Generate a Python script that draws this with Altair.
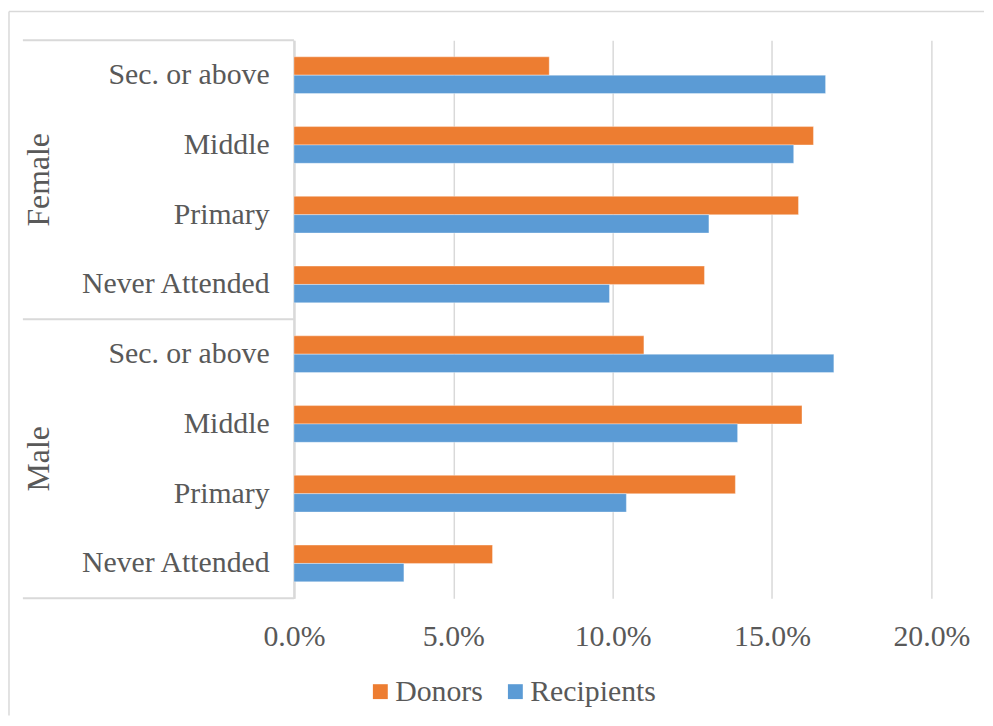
import altair as alt
import pandas as pd

genders = ["Female", "Male"]
levels = ["Sec. or above", "Middle", "Primary", "Never Attended"]
series = ["Donors", "Recipients"]
# values per gender in order of levels (fractions)
donors = {
    "Female": [0.0801, 0.1630, 0.1583, 0.1288],
    "Male": [0.1098, 0.1594, 0.1385, 0.0623],
}
recipients = {
    "Female": [0.1668, 0.1568, 0.1302, 0.0990],
    "Male": [0.1694, 0.1392, 0.1043, 0.0345],
}
x_ticks = [0.0, 0.05, 0.10, 0.15, 0.20]
colors = ["#ED7D31", "#5B9BD5"]

keys = [f"{g}|{l}" for g in genders for l in levels]

rows = []
for g in genders:
    for i, l in enumerate(levels):
        rows.append({"key": f"{g}|{l}", "series": "Donors", "value": donors[g][i]})
        rows.append({"key": f"{g}|{l}", "series": "Recipients", "value": recipients[g][i]})
df = pd.DataFrame(rows)

TXT = "#595959"
GRID = "#D9D9D9"
FONT = "Liberation Serif"
FS = 30

yscale = alt.Scale(domain=keys, paddingInner=0, paddingOuter=0)
y_axis = alt.Axis(title=None, ticks=False, domain=True, domainColor=GRID,
                  domainWidth=2.5, labelExpr="split(datum.label, '|')[1]",
                  labelFont=FONT, labelFontSize=FS, labelColor=TXT,
                  labelPadding=25, grid=False, labelOverlap=False, labelLimit=400)

bars = alt.Chart(df).mark_bar(stroke="white", strokeWidth=0.6, strokeOpacity=0.6).encode(
    x=alt.X("value:Q",
            scale=alt.Scale(domain=[0, 0.2], nice=False),
            axis=alt.Axis(values=x_ticks, format=".1%", title=None, domain=False,
                          ticks=False, grid=True, gridColor=GRID, gridWidth=1.5,
                          labelFont=FONT, labelFontSize=FS, labelColor=TXT,
                          labelPadding=24, labelFlush=False)),
    y=alt.Y("key:N", scale=yscale, axis=y_axis),
    yOffset=alt.YOffset("series:N", sort=series,
                        scale=alt.Scale(domain=series, paddingInner=0, paddingOuter=0.9)),
    color=alt.Color("series:N", sort=series,
                    scale=alt.Scale(domain=series, range=colors),
                    legend=alt.Legend(title=None, orient="none", direction="horizontal",
                                      legendX=72, legendY=641, symbolType="square",
                                      symbolSize=225, symbolStrokeWidth=0,
                                      labelFont=FONT, labelFontSize=FS, labelColor=TXT,
                                      labelOffset=0, columnPadding=17, labelLimit=400)),
)

top_df = pd.DataFrame({"key": ["Female|Sec. or above", "Male|Sec. or above"]})
bot_df = pd.DataFrame({"key": ["Male|Never Attended"]})
sep_top = alt.Chart(top_df).mark_rule(color=GRID, strokeWidth=2).encode(
    y=alt.Y("key:N", scale=yscale, axis=y_axis, bandPosition=0),
    x=alt.value(-273), x2=alt.value(0))
sep_bot = alt.Chart(bot_df).mark_rule(color=GRID, strokeWidth=2).encode(
    y=alt.Y("key:N", scale=yscale, axis=y_axis, bandPosition=1),
    x=alt.value(-273), x2=alt.value(0))

g_df = pd.DataFrame({"gender": genders, "key": [f"{g}|Primary" for g in genders]})
glabels = alt.Chart(g_df).mark_text(angle=270, font=FONT, fontSize=32, color=TXT,
                                    align="center", baseline="middle").encode(
    y=alt.Y("key:N", scale=yscale, axis=y_axis, bandPosition=0),
    x=alt.value(-257),
    text="gender:N")

border_top = alt.Chart(top_df.head(1)).mark_rule(color=GRID, strokeWidth=1.5).encode(
    x=alt.value(-287), x2=alt.value(695), y=alt.value(-29))
border_left = alt.Chart(top_df.head(1)).mark_rule(color=GRID, strokeWidth=1.5).encode(
    x=alt.value(-287), y=alt.value(-29), y2=alt.value(680))

chart = alt.layer(bars, sep_top, sep_bot, glabels, border_top, border_left).properties(
    width=642, height=562,
    padding={"left": 0, "top": 0, "right": 0, "bottom": 0},
).configure_view(stroke=None)

chart.save("out.html", embed_options={"renderer": "svg", "actions": False})
